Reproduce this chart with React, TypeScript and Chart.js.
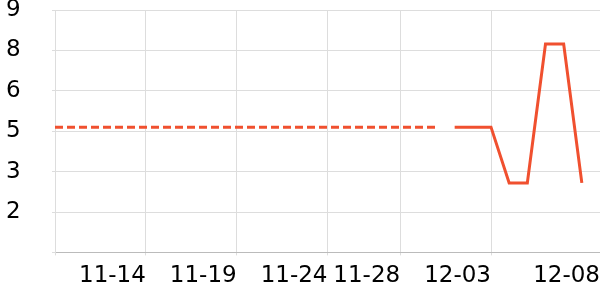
import React, { useEffect, useRef } from "react";
import { Chart, registerables } from "chart.js";

Chart.register(...registerables);

// Daily categories (index 0 .. 29)
const dates = [
  "11-09", "11-10", "11-11", "11-12", "11-13", "11-14", "11-15", "11-16", "11-17", "11-18",
  "11-19", "11-20", "11-21", "11-22", "11-23", "11-24", "11-25", "11-26", "11-27", "11-28",
  "11-29", "11-30", "12-01", "12-02", "12-03", "12-04", "12-05", "12-06", "12-07", "12-08",
];

// Dashed series: indices 0..21
const dashedValues = [
  5.05, 5.05, 5.05, 5.05, 5.05, 5.05, 5.05, 5.05, 5.05, 5.05, 5.05,
  5.05, 5.05, 5.05, 5.05, 5.05, 5.05, 5.05, 5.05, 5.05, 5.05, 5.05,
];
const dashedStart = 0;

// Solid series: indices 22..29
const solidValues = [5.05, 5.05, 5.05, 2.98, 2.98, 8.14, 8.14, 2.98];
const solidStart = 22;

// Axis ticks
const xTickPositions = [0, 5, 10, 15, 19, 24, 30];
const xTickLabels = ["", "11-14", "11-19", "11-24", "11-28", "12-03", "12-08"];
const yTickValues = [0.4, 1.9, 3.4, 4.9, 6.4, 7.9, 9.4];
const yTickLabels = ["", "2", "3", "5", "6", "8", "9"];

const LINE_COLOR = "#f0502f";
const FONT = "'DejaVu Sans', sans-serif";

export default function App() {
  const ref = useRef<HTMLCanvasElement | null>(null);

  useEffect(() => {
    if (!ref.current) return;
    const toPoints = (vals: number[], start: number) =>
      vals.map((v, i) => ({ x: start + i, y: v, label: dates[start + i] }));

    const chart = new Chart(ref.current, {
      type: "line",
      data: {
        datasets: [
          {
            data: toPoints(dashedValues, dashedStart),
            borderColor: LINE_COLOR,
            borderWidth: 3,
            borderDash: [8, 4],
            pointRadius: 0,
            tension: 0,
            fill: false,
          },
          {
            data: toPoints(solidValues, solidStart),
            borderColor: LINE_COLOR,
            borderWidth: 3,
            pointRadius: 0,
            tension: 0,
            fill: false,
          },
        ],
      },
      options: {
        animation: false,
        responsive: false,
        layout: { padding: { left: 6, top: 0, right: 0, bottom: 3 } },
        plugins: { legend: { display: false }, tooltip: { enabled: false } },
        scales: {
          x: {
            type: "linear",
            min: 0,
            max: 30,
            afterBuildTicks: (scale: any) => {
              scale.ticks = xTickPositions.map((v) => ({ value: v }));
            },
            afterFit: (scale: any) => {
              scale.paddingRight = 0;
              scale.paddingLeft = 0;
            },
            ticks: {
              autoSkip: false,
              maxRotation: 0,
              align: "end",
              padding: 7,
              color: "#000",
              font: { family: FONT, size: 23 },
              callback: (_v: any, i: number) => xTickLabels[i],
            },
            grid: { color: "#dddddd", tickLength: 3 },
            border: { color: "#bbbbbb" },
          },
          y: {
            min: 0.4,
            max: 9.4,
            afterBuildTicks: (scale: any) => {
              scale.ticks = yTickValues.map((v) => ({ value: v }));
            },
            afterFit: (scale: any) => {
              scale.width = 49;
              scale.paddingTop = 10;
              scale.paddingBottom = 0;
            },
            ticks: {
              crossAlign: "far",
              color: "#000",
              font: { family: FONT, size: 23, lineHeight: 0.9 },
              callback: (_v: any, i: number) => yTickLabels[i],
            },
            grid: { color: "#dddddd", tickLength: 3 },
            border: { color: "#dddddd" },
          },
        },
      },
    });
    return () => chart.destroy();
  }, []);

  return (
    <div style={{ position: "absolute", left: 0, top: 0, width: 600, height: 300 }}>
      <canvas ref={ref} width={600} height={300} />
    </div>
  );
}
